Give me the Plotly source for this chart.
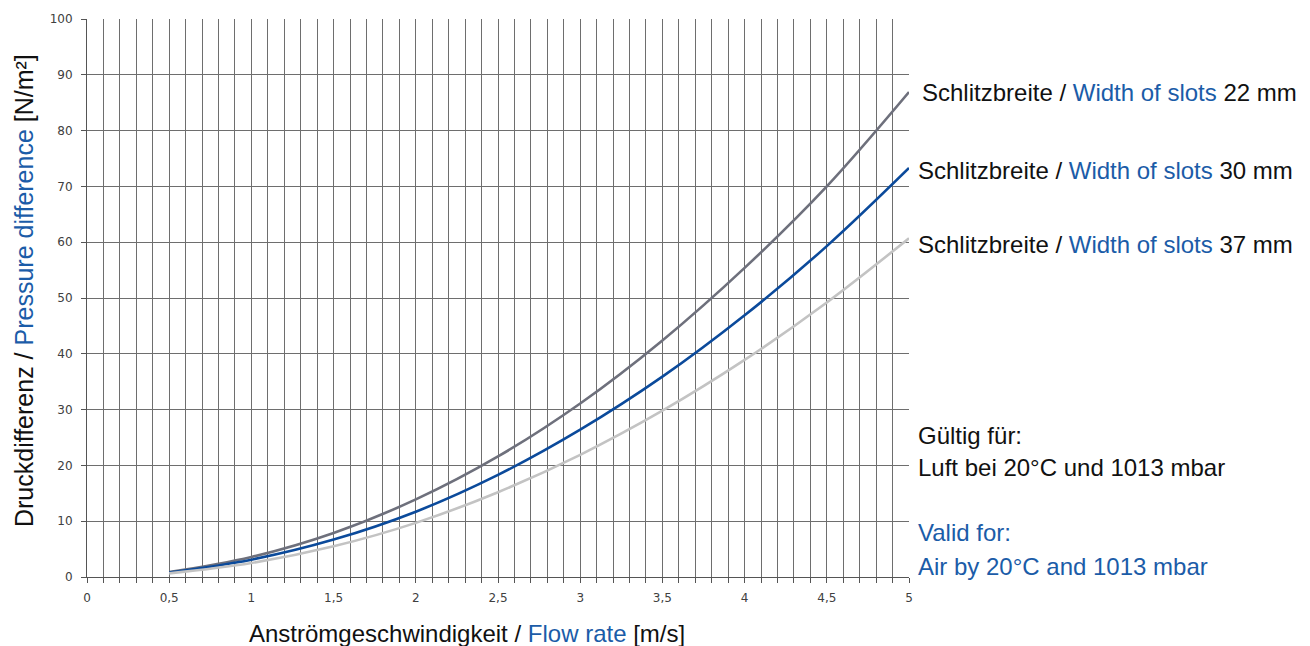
import plotly.graph_objects as go

flow_rate = [0.5, 1.0, 1.5, 2.0, 2.5, 3.0, 3.5, 4.0, 4.5, 5.0]
dp_22mm = [0.9, 3.6, 7.9, 13.9, 21.6, 31.1, 42.4, 55.4, 70.0, 86.9]
dp_30mm = [0.8, 3.1, 6.7, 11.7, 18.3, 26.4, 35.9, 46.9, 59.3, 73.3]
dp_37mm = [0.65, 2.5, 5.5, 9.7, 15.2, 21.9, 29.8, 38.9, 49.2, 60.7]

x_tickvals = [0, 0.5, 1, 1.5, 2, 2.5, 3, 3.5, 4, 4.5, 5]
x_ticktext = ["0", "0,5", "1", "1,5", "2", "2,5", "3", "3,5", "4", "4,5", "5"]
y_tickvals = [0, 10, 20, 30, 40, 50, 60, 70, 80, 90, 100]

BLUE_TXT = "#1b5ca8"
GRID = "#6e6e6e"
AXIS = "#555555"

fig = go.Figure()
series = [
    (dp_22mm, "#6e707c", "22 mm"),
    (dp_30mm, "#0b4a9b", "30 mm"),
    (dp_37mm, "#c3c3c3", "37 mm"),
]
for ys, col, name in series:
    fig.add_trace(go.Scatter(x=flow_rate, y=ys, mode="lines", name=name,
                             line=dict(color=col, width=2.6, shape="spline"),
                             showlegend=False))

def bl(t):
    return f"<span style='color:{BLUE_TXT}'>{t}</span>"

ann_font = dict(family="Liberation Sans, Arial", size=24, color="#111111")
labels = [
    (86.9, "Schlitzbreite / " + bl("Width of slots") + " 22 mm", 11),
    (72.9, "Schlitzbreite / " + bl("Width of slots") + " 30 mm", 7),
    (59.5, "Schlitzbreite / " + bl("Width of slots") + " 37 mm", 7),
    (25.4, "Gültig für:", 7),
    (19.7, "Luft bei 20°C und 1013 mbar", 7),
    (7.9, bl("Valid for:"), 7),
    (1.8, bl("Air by 20°C and 1013 mbar"), 7),
]
for yv, txt, xs in labels:
    fig.add_annotation(x=5.0, y=yv, xref="x", yref="y", text=txt, showarrow=False,
                       xanchor="left", yanchor="middle", xshift=xs, font=ann_font)

title_font = dict(family="Liberation Sans, Arial", size=24, color="#111111")
fig.add_annotation(x=0.462, y=-0.102, xref="paper", yref="paper",
                   text="Anströmgeschwindigkeit / " + bl("Flow rate") + " [m/s]",
                   showarrow=False, xanchor="center", yanchor="middle", font=title_font)
fig.add_annotation(x=-0.0766, y=0.5125, xref="paper", yref="paper", textangle=-90,
                   text="Druckdifferenz / " + bl("Pressure difference") + " [N/m²]",
                   showarrow=False, xanchor="center", yanchor="middle",
                   font=dict(family="Liberation Sans, Arial", size=25, color="#111111"))

tick_font = dict(family="DejaVu Sans, Verdana", size=12, color="#404040")
fig.update_layout(
    width=1310, height=646,
    margin=dict(l=79, r=409, t=11, b=77, autoexpand=False),
    plot_bgcolor="white", paper_bgcolor="white",
    font=dict(family="Liberation Sans, Arial"),
    xaxis=dict(
        range=[0, 5], tickvals=x_tickvals, ticktext=x_ticktext,
        showgrid=True, gridcolor=GRID, gridwidth=1,
        ticks="outside", ticklen=5, tickcolor=AXIS,
        showline=True, linecolor=AXIS, linewidth=1, automargin=False,
        tickfont=tick_font, zeroline=False, ticklabelstandoff=5,
        minor=dict(dtick=0.1, tick0=0, showgrid=True, gridcolor=GRID, gridwidth=1,
                   ticks="outside", ticklen=5, tickcolor=AXIS),
    ),
    yaxis=dict(
        range=[0, 100], tickvals=y_tickvals,
        showgrid=True, gridcolor=GRID, gridwidth=1,
        ticks="outside", ticklen=5, tickcolor=AXIS,
        showline=True, linecolor=AXIS, linewidth=1, automargin=False,
        tickfont=tick_font, zeroline=False, ticklabelstandoff=6,
    ),
)

fig.write_html("out.html")
